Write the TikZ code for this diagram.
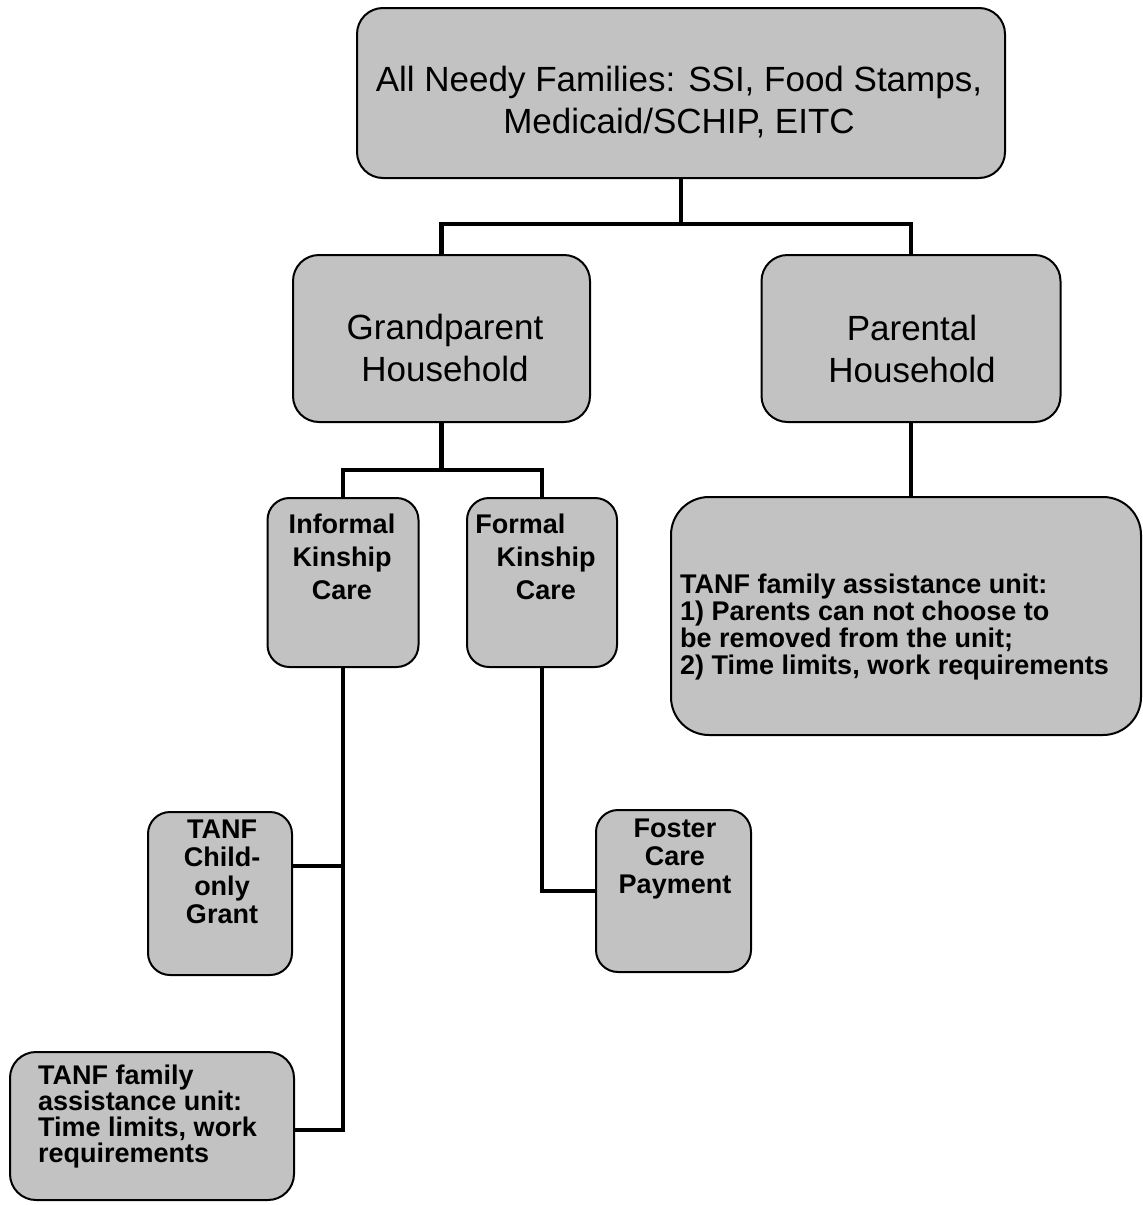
\documentclass[tikz,border=0pt]{standalone}
\usepackage{fontspec}
\setmainfont{Liberation Sans}
\begin{document}
\begin{tikzpicture}[x=1pt,y=-1pt,
  box/.style={draw=black, line width=2pt, fill=black!24, rounded corners=26pt, inner sep=0pt},
  link/.style={line width=4.6pt, line join=miter, line cap=rect},
  regtext/.style={font=\fontsize{35}{42}\selectfont, align=center, inner sep=0pt},
  boldtext/.style={font=\fontsize{27}{27}\selectfont\bfseries, inner sep=0pt}
]
\useasboundingbox (0,0) rectangle (1143,1205);
% boxes
\node[box, minimum width=648pt, minimum height=170pt] (top) at (681,93) {};
\node[box, minimum width=297pt, minimum height=167pt] (gp) at (441.5,338.5) {};
\node[box, minimum width=299pt, minimum height=167pt] (par) at (911,338.5) {};
\node[box, minimum width=151pt, minimum height=169pt, rounded corners=22pt] (inf) at (343,582.5) {};
\node[box, minimum width=150pt, minimum height=169pt, rounded corners=22pt] (form) at (542,582.5) {};
\node[box, minimum width=470pt, minimum height=238pt, rounded corners=38pt] (ptanf) at (906,616) {};
\node[box, minimum width=144pt, minimum height=163pt, rounded corners=22pt] (child) at (220,893.5) {};
\node[box, minimum width=155pt, minimum height=162pt, rounded corners=22pt] (foster) at (673.5,891) {};
\node[box, minimum width=284pt, minimum height=148pt, rounded corners=26pt] (fam) at (152,1126) {};
% texts
\node[regtext] (toptxt) at (679,102) {All Needy Families: SSI, Food Stamps,\\Medicaid/SCHIP, EITC};
\node[regtext] (gptxt) at (445,348) {Grandparent\\Household};
\node[regtext] (partxt) at (912,349) {Parental\\Household};
\node[boldtext, align=center, font=\fontsize{27}{33}\selectfont\bfseries] (inftxt) at (342,557) {Informal\\Kinship\\Care};
\node[boldtext, align=center, font=\fontsize{27}{33}\selectfont\bfseries] (formtxt) at (546,557) {Formal\hspace*{1.9em}\\Kinship\\Care};
\node[boldtext, align=left, anchor=west] (ptanftxt) at (680,627) {TANF family assistance unit:\\1) Parents can not choose to\\be removed from the unit;\\2) Time limits, work requirements};
\node[boldtext, align=center, font=\fontsize{27}{28.5}\selectfont\bfseries] (childtxt) at (222,872) {TANF\\Child-\\only\\Grant};
\node[boldtext, align=center, font=\fontsize{27}{28}\selectfont\bfseries] (fostertxt) at (675,859) {Foster\\Care\\Payment};
\node[boldtext, align=left, anchor=west, font=\fontsize{27}{26}\selectfont\bfseries] (famtxt) at (38,1117) {TANF family\\assistance unit:\\Time limits, work\\requirements};
% connectors
\coordinate (j1) at (681,224);
\coordinate (j2) at (441.5,470);
\coordinate (j3) at (343,1130);
\draw[link] (top.south) -- (j1);
\draw[link] (gp.north) |- (j1) -| (par.north);
\draw[link] (gp.south) -- (j2);
\draw[link] (inf.north) |- (j2) -| (form.north);
\draw[link] (par.south) -- (par.south |- ptanf.north);
\draw[link] (inf.south) -- (j3) -- (fam.east |- j3);
\draw[link] (inf.south |- 0,866) -- (child.east |- 0,866);
\draw[link] (form.south) |- (foster.west);
\end{tikzpicture}
\end{document}
